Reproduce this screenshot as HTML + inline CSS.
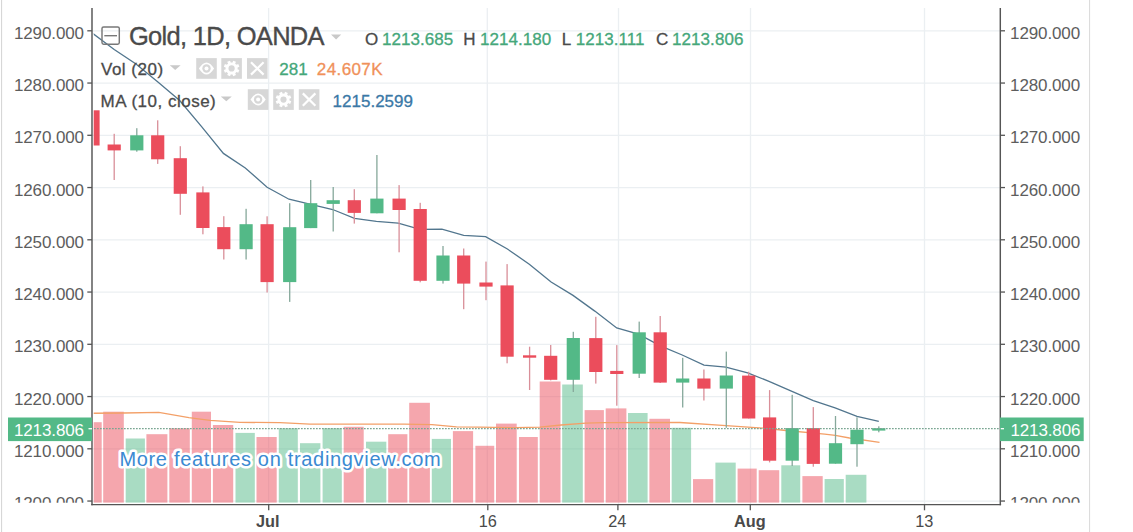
<!DOCTYPE html>
<html><head><meta charset="utf-8"><style>
html,body{margin:0;padding:0;background:#fff;width:1133px;height:532px;overflow:hidden}
svg{position:absolute;left:0;top:0;font-family:"Liberation Sans",sans-serif}
</style></head><body>
<svg width="1133" height="532" viewBox="0 0 1133 532">
<defs>
<clipPath id="pane"><rect x="93.7" y="8" width="906" height="496"/></clipPath>
<clipPath id="axes"><rect x="0" y="0" width="1133" height="502.8"/></clipPath>
</defs>
<rect x="1" y="0" width="1.1" height="532" fill="#d7d7d7"/>
<rect x="1089" y="0" width="1.1" height="532" fill="#dcdcdc"/>
<line x1="92" y1="30.80" x2="1000" y2="30.80" stroke="#ebeff2" stroke-width="1.3"/><line x1="92" y1="83.05" x2="1000" y2="83.05" stroke="#ebeff2" stroke-width="1.3"/><line x1="92" y1="135.30" x2="1000" y2="135.30" stroke="#ebeff2" stroke-width="1.3"/><line x1="92" y1="187.55" x2="1000" y2="187.55" stroke="#ebeff2" stroke-width="1.3"/><line x1="92" y1="239.80" x2="1000" y2="239.80" stroke="#ebeff2" stroke-width="1.3"/><line x1="92" y1="292.05" x2="1000" y2="292.05" stroke="#ebeff2" stroke-width="1.3"/><line x1="92" y1="344.30" x2="1000" y2="344.30" stroke="#ebeff2" stroke-width="1.3"/><line x1="92" y1="396.55" x2="1000" y2="396.55" stroke="#ebeff2" stroke-width="1.3"/><line x1="92" y1="448.80" x2="1000" y2="448.80" stroke="#ebeff2" stroke-width="1.3"/><line x1="92" y1="501.05" x2="1000" y2="501.05" stroke="#ebeff2" stroke-width="1.3"/><line x1="268.6" y1="8" x2="268.6" y2="504" stroke="#ebeff2" stroke-width="1.3"/><line x1="487.3" y1="8" x2="487.3" y2="504" stroke="#ebeff2" stroke-width="1.3"/><line x1="618.5" y1="8" x2="618.5" y2="504" stroke="#ebeff2" stroke-width="1.3"/><line x1="750.5" y1="8" x2="750.5" y2="504" stroke="#ebeff2" stroke-width="1.3"/><line x1="924.5" y1="8" x2="924.5" y2="504" stroke="#ebeff2" stroke-width="1.3"/><g clip-path="url(#pane)"><rect x="86.00" y="422.20" width="15.70" height="80.40" fill="rgba(235,77,92,0.5)"/><rect x="103.20" y="411.70" width="20.60" height="90.90" fill="rgba(235,77,92,0.5)"/><rect x="125.70" y="438.50" width="19.20" height="64.10" fill="rgba(83,185,135,0.5)"/><rect x="146.40" y="434.20" width="21.00" height="68.40" fill="rgba(235,77,92,0.5)"/><rect x="169.30" y="428.20" width="20.50" height="74.40" fill="rgba(235,77,92,0.5)"/><rect x="191.80" y="411.70" width="19.20" height="90.90" fill="rgba(235,77,92,0.5)"/><rect x="212.90" y="425.00" width="20.30" height="77.60" fill="rgba(235,77,92,0.5)"/><rect x="235.50" y="432.90" width="19.30" height="69.70" fill="rgba(83,185,135,0.5)"/><rect x="256.50" y="437.00" width="20.20" height="65.60" fill="rgba(235,77,92,0.5)"/><rect x="278.80" y="428.20" width="19.00" height="74.40" fill="rgba(83,185,135,0.5)"/><rect x="300.00" y="443.20" width="20.40" height="59.40" fill="rgba(83,185,135,0.5)"/><rect x="322.60" y="428.20" width="19.20" height="74.40" fill="rgba(83,185,135,0.5)"/><rect x="343.70" y="426.80" width="20.00" height="75.80" fill="rgba(235,77,92,0.5)"/><rect x="366.00" y="441.70" width="20.30" height="60.90" fill="rgba(83,185,135,0.5)"/><rect x="388.20" y="434.20" width="19.20" height="68.40" fill="rgba(235,77,92,0.5)"/><rect x="409.20" y="402.80" width="20.70" height="99.80" fill="rgba(235,77,92,0.5)"/><rect x="431.80" y="438.90" width="19.20" height="63.70" fill="rgba(83,185,135,0.5)"/><rect x="452.90" y="431.10" width="20.20" height="71.50" fill="rgba(235,77,92,0.5)"/><rect x="475.40" y="445.80" width="18.80" height="56.80" fill="rgba(235,77,92,0.5)"/><rect x="496.00" y="423.60" width="20.70" height="79.00" fill="rgba(235,77,92,0.5)"/><rect x="519.00" y="437.00" width="18.80" height="65.60" fill="rgba(235,77,92,0.5)"/><rect x="539.70" y="381.50" width="20.80" height="121.10" fill="rgba(235,77,92,0.5)"/><rect x="562.20" y="384.50" width="20.60" height="118.10" fill="rgba(83,185,135,0.5)"/><rect x="584.60" y="410.10" width="19.30" height="92.50" fill="rgba(235,77,92,0.5)"/><rect x="605.70" y="408.40" width="20.70" height="94.20" fill="rgba(235,77,92,0.5)"/><rect x="628.00" y="413.00" width="19.60" height="89.60" fill="rgba(83,185,135,0.5)"/><rect x="649.40" y="418.80" width="20.60" height="83.80" fill="rgba(235,77,92,0.5)"/><rect x="671.70" y="427.80" width="19.40" height="74.80" fill="rgba(83,185,135,0.5)"/><rect x="693.00" y="479.10" width="20.20" height="23.50" fill="rgba(235,77,92,0.5)"/><rect x="715.40" y="462.60" width="20.30" height="40.00" fill="rgba(83,185,135,0.5)"/><rect x="737.60" y="468.60" width="19.10" height="34.00" fill="rgba(235,77,92,0.5)"/><rect x="758.70" y="470.20" width="20.50" height="32.40" fill="rgba(235,77,92,0.5)"/><rect x="781.30" y="465.30" width="18.90" height="37.30" fill="rgba(83,185,135,0.5)"/><rect x="802.40" y="476.10" width="20.30" height="26.50" fill="rgba(235,77,92,0.5)"/><rect x="824.60" y="479.00" width="19.20" height="23.60" fill="rgba(83,185,135,0.5)"/><rect x="845.70" y="474.80" width="20.70" height="27.80" fill="rgba(83,185,135,0.5)"/></g><polyline clip-path="url(#pane)" points="90,413.3 123.8,413.0 158.8,412.4 188.9,417.7 210,420.3 240,422.4 280,422.6 310,424.2 404,424.2 432,424.7 456.5,426.8 480,427.2 515,427.7 540,427.1 561.2,425 585.9,423.2 603.6,422.7 680,422.5 726,425.6 763,428.2 786,430.5 824.7,434.1 835.3,435.3 849.5,438 879.5,442.3" fill="none" stroke="#f3a068" stroke-width="1.3"/><polyline clip-path="url(#pane)" points="92.35,33.2 114.2,49.5 136.0,64 157.9,82.1 179.7,100.5 201.6,126.7 223.4,153.4 245.3,168 267.1,187.2 289.0,199.2 310.8,204.3 332.7,209.5 354.5,218.4 376.4,221.3 398.2,223.1 420.0,229.4 441.9,229.2 463.7,235.3 485.6,236.7 507.4,249 529.3,264.2 551.1,282 573.0,295.4 594.8,311.1 616.7,328 638.5,334.2 660.4,345.8 682.2,355 704.0,365.2 725.9,367.1 747.7,372.8 769.6,381.6 791.4,391.2 813.3,400.7 835.1,407.9 857.0,416.4 878.8,421.4" fill="none" stroke="#52768e" stroke-width="1.3"/><g clip-path="url(#pane)"><rect x="86.40" y="110.30" width="13.2" height="35.20" fill="#eb4d5c"/><rect x="113.55" y="133.80" width="1.3" height="46.20" fill="#d98f99"/><rect x="107.60" y="144.50" width="13.2" height="5.90" fill="#eb4d5c"/><rect x="136.15" y="128.20" width="1.3" height="23.50" fill="#86a89b"/><rect x="130.20" y="135.30" width="13.2" height="15.10" fill="#53b987"/><rect x="157.05" y="120.30" width="1.3" height="43.60" fill="#d98f99"/><rect x="151.10" y="135.30" width="13.2" height="24.00" fill="#eb4d5c"/><rect x="179.65" y="146.20" width="1.3" height="68.60" fill="#d98f99"/><rect x="173.70" y="158.20" width="13.2" height="35.60" fill="#eb4d5c"/><rect x="202.25" y="186.40" width="1.3" height="47.90" fill="#d98f99"/><rect x="196.30" y="192.40" width="13.2" height="35.60" fill="#eb4d5c"/><rect x="223.15" y="216.20" width="1.3" height="43.30" fill="#d98f99"/><rect x="217.20" y="227.10" width="13.2" height="22.10" fill="#eb4d5c"/><rect x="245.45" y="208.80" width="1.3" height="50.70" fill="#86a89b"/><rect x="239.50" y="224.20" width="13.2" height="25.00" fill="#53b987"/><rect x="266.45" y="216.30" width="1.3" height="76.20" fill="#d98f99"/><rect x="260.50" y="224.20" width="13.2" height="57.90" fill="#eb4d5c"/><rect x="289.05" y="203.20" width="1.3" height="98.70" fill="#86a89b"/><rect x="283.10" y="227.20" width="13.2" height="54.90" fill="#53b987"/><rect x="310.05" y="180.00" width="1.3" height="48.10" fill="#86a89b"/><rect x="304.10" y="203.20" width="13.2" height="24.90" fill="#53b987"/><rect x="332.55" y="187.00" width="1.3" height="44.50" fill="#86a89b"/><rect x="326.60" y="200.20" width="13.2" height="3.70" fill="#53b987"/><rect x="353.65" y="189.20" width="1.3" height="34.40" fill="#d98f99"/><rect x="347.70" y="200.20" width="13.2" height="12.70" fill="#eb4d5c"/><rect x="376.25" y="155.00" width="1.3" height="58.30" fill="#86a89b"/><rect x="370.30" y="198.60" width="13.2" height="14.70" fill="#53b987"/><rect x="398.45" y="185.10" width="1.3" height="67.20" fill="#d98f99"/><rect x="392.50" y="198.60" width="13.2" height="11.40" fill="#eb4d5c"/><rect x="419.55" y="202.80" width="1.3" height="79.50" fill="#d98f99"/><rect x="413.60" y="209.00" width="13.2" height="71.80" fill="#eb4d5c"/><rect x="442.35" y="246.00" width="1.3" height="37.60" fill="#86a89b"/><rect x="436.40" y="255.50" width="13.2" height="25.30" fill="#53b987"/><rect x="463.05" y="248.50" width="1.3" height="60.70" fill="#d98f99"/><rect x="457.10" y="255.50" width="13.2" height="28.10" fill="#eb4d5c"/><rect x="485.35" y="261.60" width="1.3" height="38.60" fill="#d98f99"/><rect x="479.40" y="282.50" width="13.2" height="4.10" fill="#eb4d5c"/><rect x="506.45" y="264.10" width="1.3" height="99.20" fill="#d98f99"/><rect x="500.50" y="285.40" width="13.2" height="71.30" fill="#eb4d5c"/><rect x="528.95" y="346.70" width="1.3" height="43.30" fill="#d98f99"/><rect x="523.00" y="355.30" width="13.2" height="2.40" fill="#eb4d5c"/><rect x="550.05" y="345.00" width="1.3" height="35.40" fill="#d98f99"/><rect x="544.10" y="355.80" width="13.2" height="24.00" fill="#eb4d5c"/><rect x="572.65" y="331.80" width="1.3" height="60.20" fill="#86a89b"/><rect x="566.70" y="338.00" width="13.2" height="41.80" fill="#53b987"/><rect x="595.15" y="316.80" width="1.3" height="66.80" fill="#d98f99"/><rect x="589.20" y="338.10" width="13.2" height="33.90" fill="#eb4d5c"/><rect x="616.15" y="345.10" width="1.3" height="60.60" fill="#d98f99"/><rect x="610.20" y="370.90" width="13.2" height="3.10" fill="#eb4d5c"/><rect x="638.55" y="321.60" width="1.3" height="56.40" fill="#86a89b"/><rect x="632.60" y="332.30" width="13.2" height="41.40" fill="#53b987"/><rect x="659.55" y="316.00" width="1.3" height="67.00" fill="#d98f99"/><rect x="653.60" y="332.30" width="13.2" height="50.30" fill="#eb4d5c"/><rect x="682.05" y="357.80" width="1.3" height="49.70" fill="#86a89b"/><rect x="676.10" y="378.50" width="13.2" height="4.10" fill="#53b987"/><rect x="703.25" y="369.50" width="1.3" height="31.00" fill="#d98f99"/><rect x="697.30" y="378.50" width="13.2" height="10.10" fill="#eb4d5c"/><rect x="725.65" y="351.60" width="1.3" height="76.20" fill="#86a89b"/><rect x="719.70" y="375.50" width="13.2" height="13.10" fill="#53b987"/><rect x="748.05" y="371.70" width="1.3" height="46.80" fill="#d98f99"/><rect x="742.10" y="375.60" width="13.2" height="42.90" fill="#eb4d5c"/><rect x="768.95" y="390.10" width="1.3" height="72.30" fill="#d98f99"/><rect x="763.00" y="417.40" width="13.2" height="43.30" fill="#eb4d5c"/><rect x="791.55" y="394.80" width="1.3" height="71.20" fill="#86a89b"/><rect x="785.60" y="428.10" width="13.2" height="32.60" fill="#53b987"/><rect x="812.65" y="407.10" width="1.3" height="59.60" fill="#d98f99"/><rect x="806.70" y="428.10" width="13.2" height="35.80" fill="#eb4d5c"/><rect x="834.85" y="416.00" width="1.3" height="47.70" fill="#86a89b"/><rect x="828.90" y="443.20" width="13.2" height="20.50" fill="#53b987"/><rect x="856.35" y="417.30" width="1.3" height="49.40" fill="#86a89b"/><rect x="850.40" y="429.70" width="13.2" height="14.50" fill="#53b987"/><rect x="878.15" y="426.30" width="1.3" height="6.00" fill="#86a89b"/><rect x="872.20" y="428.20" width="13.2" height="2.40" fill="#53b987"/></g><line x1="94" y1="428.7" x2="1000" y2="428.7" stroke="#7aa692" stroke-width="1.3" stroke-dasharray="1.7 1.3"/><line x1="92" y1="8" x2="92" y2="505.3" stroke="#555555" stroke-width="1.45"/><line x1="1000.3" y1="8" x2="1000.3" y2="505.3" stroke="#555555" stroke-width="1.45"/><line x1="91.2" y1="504.6" x2="1001.1" y2="504.6" stroke="#555555" stroke-width="1.45"/><line x1="87.3" y1="30.80" x2="92" y2="30.80" stroke="#555555" stroke-width="1.3"/><line x1="1000" y1="30.80" x2="1005" y2="30.80" stroke="#555555" stroke-width="1.3"/><line x1="87.3" y1="83.05" x2="92" y2="83.05" stroke="#555555" stroke-width="1.3"/><line x1="1000" y1="83.05" x2="1005" y2="83.05" stroke="#555555" stroke-width="1.3"/><line x1="87.3" y1="135.30" x2="92" y2="135.30" stroke="#555555" stroke-width="1.3"/><line x1="1000" y1="135.30" x2="1005" y2="135.30" stroke="#555555" stroke-width="1.3"/><line x1="87.3" y1="187.55" x2="92" y2="187.55" stroke="#555555" stroke-width="1.3"/><line x1="1000" y1="187.55" x2="1005" y2="187.55" stroke="#555555" stroke-width="1.3"/><line x1="87.3" y1="239.80" x2="92" y2="239.80" stroke="#555555" stroke-width="1.3"/><line x1="1000" y1="239.80" x2="1005" y2="239.80" stroke="#555555" stroke-width="1.3"/><line x1="87.3" y1="292.05" x2="92" y2="292.05" stroke="#555555" stroke-width="1.3"/><line x1="1000" y1="292.05" x2="1005" y2="292.05" stroke="#555555" stroke-width="1.3"/><line x1="87.3" y1="344.30" x2="92" y2="344.30" stroke="#555555" stroke-width="1.3"/><line x1="1000" y1="344.30" x2="1005" y2="344.30" stroke="#555555" stroke-width="1.3"/><line x1="87.3" y1="396.55" x2="92" y2="396.55" stroke="#555555" stroke-width="1.3"/><line x1="1000" y1="396.55" x2="1005" y2="396.55" stroke="#555555" stroke-width="1.3"/><line x1="87.3" y1="448.80" x2="92" y2="448.80" stroke="#555555" stroke-width="1.3"/><line x1="1000" y1="448.80" x2="1005" y2="448.80" stroke="#555555" stroke-width="1.3"/><line x1="87.3" y1="501.05" x2="92" y2="501.05" stroke="#555555" stroke-width="1.3"/><line x1="1000" y1="501.05" x2="1005" y2="501.05" stroke="#555555" stroke-width="1.3"/><g clip-path="url(#axes)" font-size="17" letter-spacing="-0.12" fill="#5d5d5d"><text x="83.9" y="38.80" text-anchor="end">1290.000</text><text x="1010.1" y="38.80">1290.000</text><text x="83.9" y="91.05" text-anchor="end">1280.000</text><text x="1010.1" y="91.05">1280.000</text><text x="83.9" y="143.30" text-anchor="end">1270.000</text><text x="1010.1" y="143.30">1270.000</text><text x="83.9" y="195.55" text-anchor="end">1260.000</text><text x="1010.1" y="195.55">1260.000</text><text x="83.9" y="247.80" text-anchor="end">1250.000</text><text x="1010.1" y="247.80">1250.000</text><text x="83.9" y="300.05" text-anchor="end">1240.000</text><text x="1010.1" y="300.05">1240.000</text><text x="83.9" y="352.30" text-anchor="end">1230.000</text><text x="1010.1" y="352.30">1230.000</text><text x="83.9" y="404.55" text-anchor="end">1220.000</text><text x="1010.1" y="404.55">1220.000</text><text x="83.9" y="456.80" text-anchor="end">1210.000</text><text x="1010.1" y="456.80">1210.000</text><text x="83.9" y="509.05" text-anchor="end">1200.000</text><text x="1010.1" y="509.05">1200.000</text></g><rect x="8" y="417.5" width="84" height="23.6" fill="#53b987"/><rect x="1000" y="417.5" width="83.7" height="23.6" fill="#53b987"/><line x1="88.5" y1="428.7" x2="92" y2="428.7" stroke="#fff" stroke-width="1.3"/><line x1="1000.8" y1="428.7" x2="1004" y2="428.7" stroke="#fff" stroke-width="1.3"/><text x="83.9" y="435.9" text-anchor="end" font-size="17" letter-spacing="-0.12" fill="#fff">1213.806</text><text x="1010.4" y="435.9" font-size="17" letter-spacing="-0.12" fill="#fff">1213.806</text><line x1="268.7" y1="504.6" x2="268.7" y2="510.3" stroke="#555555" stroke-width="1.3"/><line x1="487.8" y1="504.6" x2="487.8" y2="510.3" stroke="#555555" stroke-width="1.3"/><line x1="617.9" y1="504.6" x2="617.9" y2="510.3" stroke="#555555" stroke-width="1.3"/><line x1="750.3" y1="504.6" x2="750.3" y2="510.3" stroke="#555555" stroke-width="1.3"/><line x1="924.5" y1="504.6" x2="924.5" y2="510.3" stroke="#555555" stroke-width="1.3"/><text x="267.7" y="526.8" text-anchor="middle" font-size="16.3" font-weight="bold" fill="#4a4a4a">Jul</text><text x="487.8" y="526.8" text-anchor="middle" font-size="16.3" fill="#4a4a4a">16</text><text x="617.3" y="526.8" text-anchor="middle" font-size="16.3" fill="#4a4a4a">24</text><text x="749.8" y="526.8" text-anchor="middle" font-size="16.3" font-weight="bold" fill="#4a4a4a">Aug</text><text x="924.2" y="526.8" text-anchor="middle" font-size="16.3" fill="#4a4a4a">13</text>
<rect x="102" y="27" width="17.3" height="17.2" rx="1.6" fill="none" stroke="#787878" stroke-width="1.45"/><line x1="104.3" y1="35.7" x2="117" y2="35.7" stroke="#787878" stroke-width="1.4"/><text x="128.9" y="45.2" font-size="25.5" letter-spacing="-0.7" fill="#4a4a4a" stroke="#4a4a4a" stroke-width="0.35">Gold, 1D, OANDA</text><path d="M331,34.6 L341.2,34.6 L336.1,39.4Z" fill="#c9c9c9"/><text x="365.0" y="44.8" font-size="17" letter-spacing="0.05" fill="#4a4a4a" stroke="#4a4a4a" stroke-width="0.3">O</text><text x="382.0" y="44.8" font-size="17" letter-spacing="0.05" fill="#45a77a" stroke="#45a77a" stroke-width="0.3">1213.685</text><text x="463.3" y="44.8" font-size="17" letter-spacing="0.05" fill="#4a4a4a" stroke="#4a4a4a" stroke-width="0.3">H</text><text x="480.0" y="44.8" font-size="17" letter-spacing="0.05" fill="#45a77a" stroke="#45a77a" stroke-width="0.3">1214.180</text><text x="561.8" y="44.8" font-size="17" letter-spacing="0.05" fill="#4a4a4a" stroke="#4a4a4a" stroke-width="0.3">L</text><text x="575.8" y="44.8" font-size="17" letter-spacing="0.05" fill="#45a77a" stroke="#45a77a" stroke-width="0.3">1213.111</text><text x="656.0" y="44.8" font-size="17" letter-spacing="0.05" fill="#4a4a4a" stroke="#4a4a4a" stroke-width="0.3">C</text><text x="672.1" y="44.8" font-size="17" letter-spacing="0.05" fill="#45a77a" stroke="#45a77a" stroke-width="0.3">1213.806</text><text x="101" y="74.6" font-size="17" letter-spacing="0.5" fill="#4a4a4a" stroke="#4a4a4a" stroke-width="0.3">Vol (20)</text><path d="M169.8,65.2 L180.6,65.2 L175.2,70Z" fill="#c9c9c9"/><rect x="196.2" y="58.1" width="20.6" height="20.7" fill="#d7d7d7"/><path d="M198.9,68.45 Q206.5,56.45 214.1,68.45 Q206.5,80.45 198.9,68.45Z" fill="#fff"/><circle cx="206.5" cy="68.45" r="4.2" fill="#d7d7d7"/><circle cx="206.5" cy="68.45" r="2.0" fill="#fff"/><rect x="221.3" y="58.1" width="20.6" height="20.7" fill="#d7d7d7"/><rect x="230.10000000000002" y="60.650000000000006" width="3.0" height="3.5" fill="#fff" transform="rotate(22.5 231.60000000000002 68.45)"/><rect x="230.10000000000002" y="60.650000000000006" width="3.0" height="3.5" fill="#fff" transform="rotate(67.5 231.60000000000002 68.45)"/><rect x="230.10000000000002" y="60.650000000000006" width="3.0" height="3.5" fill="#fff" transform="rotate(112.5 231.60000000000002 68.45)"/><rect x="230.10000000000002" y="60.650000000000006" width="3.0" height="3.5" fill="#fff" transform="rotate(157.5 231.60000000000002 68.45)"/><rect x="230.10000000000002" y="60.650000000000006" width="3.0" height="3.5" fill="#fff" transform="rotate(202.5 231.60000000000002 68.45)"/><rect x="230.10000000000002" y="60.650000000000006" width="3.0" height="3.5" fill="#fff" transform="rotate(247.5 231.60000000000002 68.45)"/><rect x="230.10000000000002" y="60.650000000000006" width="3.0" height="3.5" fill="#fff" transform="rotate(292.5 231.60000000000002 68.45)"/><rect x="230.10000000000002" y="60.650000000000006" width="3.0" height="3.5" fill="#fff" transform="rotate(337.5 231.60000000000002 68.45)"/><circle cx="231.60000000000002" cy="68.45" r="6.0" fill="#fff"/><circle cx="231.60000000000002" cy="68.45" r="3.1" fill="#d7d7d7"/><rect x="247.0" y="58.1" width="20.6" height="20.7" fill="#d7d7d7"/><path d="M251.0,62.25 L263.6,74.65 M263.6,62.25 L251.0,74.65" stroke="#fff" stroke-width="2.2"/><text x="279.3" y="75.4" font-size="17" fill="#45a77a" stroke="#45a77a" stroke-width="0.3">281</text><text x="316.8" y="75.4" font-size="17" letter-spacing="0.4" fill="#f0915a" stroke="#f0915a" stroke-width="0.3">24.607K</text><text x="100.6" y="106.6" font-size="17" letter-spacing="0.5" fill="#4a4a4a" stroke="#4a4a4a" stroke-width="0.3">MA (10, close)</text><path d="M220.8,96.4 L231.8,96.4 L226.3,101.2Z" fill="#c9c9c9"/><rect x="247.8" y="89.2" width="20.6" height="20.7" fill="#d7d7d7"/><path d="M250.50000000000003,99.55 Q258.1,87.55 265.70000000000005,99.55 Q258.1,111.55 250.50000000000003,99.55Z" fill="#fff"/><circle cx="258.1" cy="99.55" r="4.2" fill="#d7d7d7"/><circle cx="258.1" cy="99.55" r="2.0" fill="#fff"/><rect x="273.2" y="89.2" width="20.6" height="20.7" fill="#d7d7d7"/><rect x="282.0" y="91.75" width="3.0" height="3.5" fill="#fff" transform="rotate(22.5 283.5 99.55)"/><rect x="282.0" y="91.75" width="3.0" height="3.5" fill="#fff" transform="rotate(67.5 283.5 99.55)"/><rect x="282.0" y="91.75" width="3.0" height="3.5" fill="#fff" transform="rotate(112.5 283.5 99.55)"/><rect x="282.0" y="91.75" width="3.0" height="3.5" fill="#fff" transform="rotate(157.5 283.5 99.55)"/><rect x="282.0" y="91.75" width="3.0" height="3.5" fill="#fff" transform="rotate(202.5 283.5 99.55)"/><rect x="282.0" y="91.75" width="3.0" height="3.5" fill="#fff" transform="rotate(247.5 283.5 99.55)"/><rect x="282.0" y="91.75" width="3.0" height="3.5" fill="#fff" transform="rotate(292.5 283.5 99.55)"/><rect x="282.0" y="91.75" width="3.0" height="3.5" fill="#fff" transform="rotate(337.5 283.5 99.55)"/><circle cx="283.5" cy="99.55" r="6.0" fill="#fff"/><circle cx="283.5" cy="99.55" r="3.1" fill="#d7d7d7"/><rect x="298.8" y="89.2" width="20.6" height="20.7" fill="#d7d7d7"/><path d="M302.8,93.35 L315.40000000000003,105.75 M315.40000000000003,93.35 L302.8,105.75" stroke="#fff" stroke-width="2.2"/><text x="332.6" y="107" font-size="17" fill="#3a78a6" stroke="#3a78a6" stroke-width="0.3">1215.2599</text>
<text x="119.4" y="465.9" font-size="20" letter-spacing="0.68" fill="#3b8ad2" stroke="#fff" stroke-width="5.2" stroke-linejoin="round" paint-order="stroke">More features on tradingview.com</text>
</svg>
</body></html>
